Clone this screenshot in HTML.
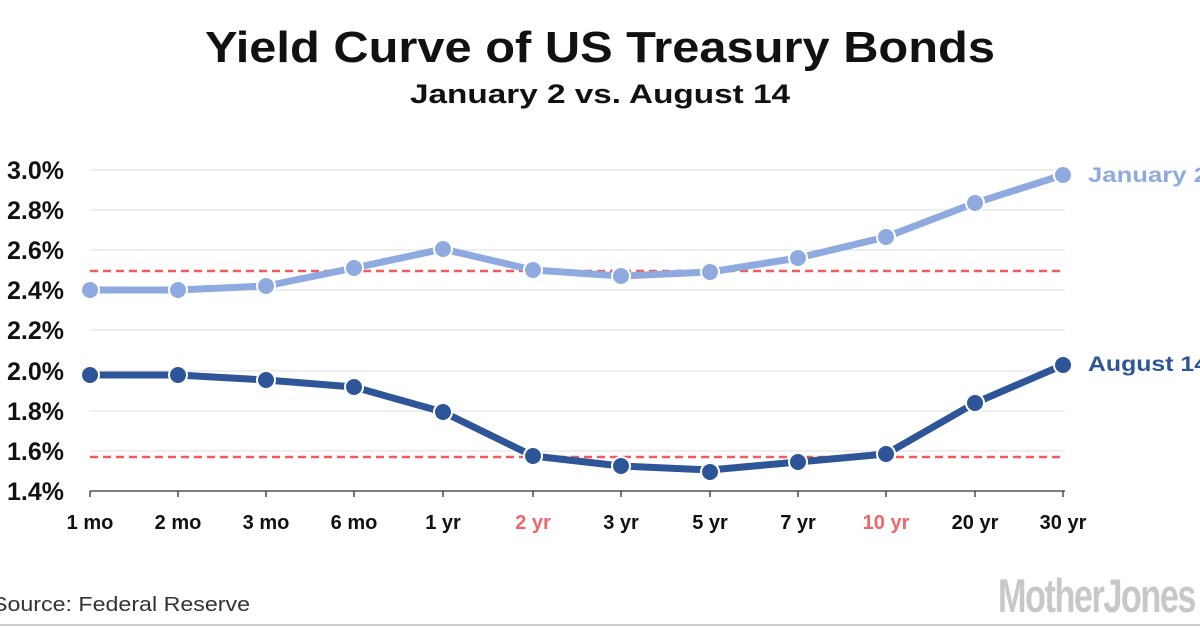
<!DOCTYPE html>
<html><head><meta charset="utf-8"><style>
html,body{margin:0;padding:0;background:#fff;}
svg{display:block;}
text{font-family:"Liberation Sans",sans-serif;}
</style></head><body>
<svg width="1200" height="627" viewBox="0 0 1200 627" xmlns="http://www.w3.org/2000/svg">
<rect width="1200" height="627" fill="#fff"/>
<text x="205" y="62" font-size="44" font-weight="bold" fill="#111" textLength="790" lengthAdjust="spacingAndGlyphs">Yield Curve of US Treasury Bonds</text>
<text x="410" y="103" font-size="27" font-weight="bold" fill="#111" textLength="380" lengthAdjust="spacingAndGlyphs">January 2 vs. August 14</text>
<g stroke="#e4e4e4" stroke-width="1.3">
<line x1="90" y1="170" x2="1065" y2="170"/><line x1="90" y1="210" x2="1065" y2="210"/>
<line x1="90" y1="250" x2="1065" y2="250"/><line x1="90" y1="290" x2="1065" y2="290"/>
<line x1="90" y1="330" x2="1065" y2="330"/><line x1="90" y1="371" x2="1065" y2="371"/>
<line x1="90" y1="411" x2="1065" y2="411"/><line x1="90" y1="451" x2="1065" y2="451"/>
</g>
<line x1="90" y1="491" x2="1065" y2="491" stroke="#333" stroke-width="1.3"/>
<g stroke="#333" stroke-width="1.3">
<line x1="90" y1="491" x2="90" y2="497"/><line x1="178" y1="491" x2="178" y2="497"/><line x1="266" y1="491" x2="266" y2="497"/><line x1="354" y1="491" x2="354" y2="497"/><line x1="443" y1="491" x2="443" y2="497"/><line x1="533" y1="491" x2="533" y2="497"/><line x1="621" y1="491" x2="621" y2="497"/><line x1="710" y1="491" x2="710" y2="497"/><line x1="798" y1="491" x2="798" y2="497"/><line x1="886" y1="491" x2="886" y2="497"/><line x1="975" y1="491" x2="975" y2="497"/><line x1="1063" y1="491" x2="1063" y2="497"/>
</g>
<g font-size="25" font-weight="bold" fill="#111" text-anchor="end">
<text x="64" y="179">3.0%</text><text x="64" y="219">2.8%</text><text x="64" y="259">2.6%</text>
<text x="64" y="299">2.4%</text><text x="64" y="339">2.2%</text><text x="64" y="380">2.0%</text>
<text x="64" y="420">1.8%</text><text x="64" y="460">1.6%</text><text x="64" y="500">1.4%</text>
</g>
<g font-size="20" font-weight="bold" fill="#111" text-anchor="middle">
<text x="90" y="529">1 mo</text><text x="178" y="529">2 mo</text><text x="266" y="529">3 mo</text><text x="354" y="529">6 mo</text><text x="443" y="529">1 yr</text><text x="533" y="529" fill="#f0666a">2 yr</text><text x="621" y="529">3 yr</text><text x="710" y="529">5 yr</text><text x="798" y="529">7 yr</text><text x="886" y="529" fill="#f0666a">10 yr</text><text x="975" y="529">20 yr</text><text x="1063" y="529">30 yr</text>
</g>
<g stroke="#f25a5e" stroke-width="2.5" stroke-dasharray="8,5">
<line x1="90" y1="271" x2="1065" y2="271"/><line x1="90" y1="457" x2="1065" y2="457"/>
</g>
<polyline fill="none" stroke="#8eaadf" stroke-width="7" stroke-linejoin="round" points="90,290 178,290 266,286 354,268 443,249 533,270 621,276 710,272 798,258 886,237 975,203 1063,175"/>
<g fill="#8eaadf" stroke="#fff" stroke-width="2">
<circle cx="90" cy="290" r="9"/><circle cx="178" cy="290" r="9"/><circle cx="266" cy="286" r="9"/><circle cx="354" cy="268" r="9"/><circle cx="443" cy="249" r="9"/><circle cx="533" cy="270" r="9"/><circle cx="621" cy="276" r="9"/><circle cx="710" cy="272" r="9"/><circle cx="798" cy="258" r="9"/><circle cx="886" cy="237" r="9"/><circle cx="975" cy="203" r="9"/><circle cx="1063" cy="175" r="9"/>
</g>
<polyline fill="none" stroke="#2e5597" stroke-width="7" stroke-linejoin="round" points="90,375 178,375 266,380 354,387 443,412 533,456 621,466 710,470 798,462 886,454 975,403 1063,365"/>
<g fill="#2e5597" stroke="#fff" stroke-width="2">
<circle cx="90" cy="375" r="9"/><circle cx="178" cy="375" r="9"/><circle cx="266" cy="380" r="9"/><circle cx="354" cy="387" r="9"/><circle cx="443" cy="412" r="9"/><circle cx="533" cy="456" r="9"/><circle cx="621" cy="466" r="9"/><circle cx="710" cy="472" r="9"/><circle cx="798" cy="462" r="9"/><circle cx="886" cy="454" r="9"/><circle cx="975" cy="403" r="9"/><circle cx="1063" cy="365" r="9"/>
</g>
<text x="1088" y="182" font-size="21" font-weight="bold" fill="#8eaadf" textLength="120" lengthAdjust="spacingAndGlyphs">January 2</text>
<text x="1088" y="371" font-size="21" font-weight="bold" fill="#2e5597" textLength="120" lengthAdjust="spacingAndGlyphs">August 14</text>
<text x="-8" y="611" font-size="20" fill="#333" textLength="258" lengthAdjust="spacingAndGlyphs">Source: Federal Reserve</text>
<text x="998" y="612" font-size="47" font-weight="bold" fill="#c8c8c8" textLength="197" lengthAdjust="spacingAndGlyphs" letter-spacing="-2">MotherJones</text>
<line x1="0" y1="625" x2="1200" y2="625" stroke="#bbb" stroke-width="1.5"/>
</svg>
</body></html>
